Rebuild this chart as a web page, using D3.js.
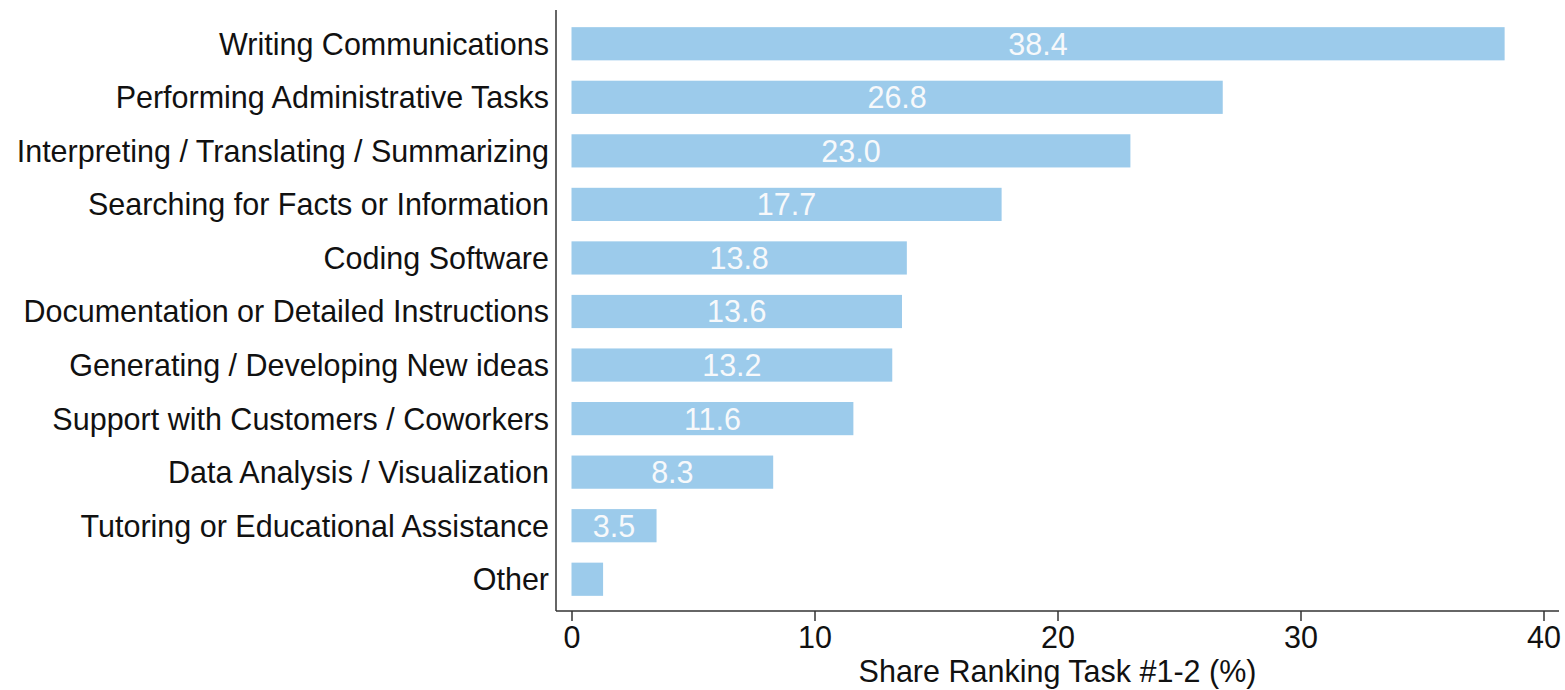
<!DOCTYPE html>
<html>
<head>
<meta charset="utf-8">
<script src="https://cdn.jsdelivr.net/npm/d3@7"></script>
<style>
  html, body { margin: 0; padding: 0; background: #ffffff; }
  svg { display: block; }
  text { font-family: "Liberation Sans", Arial, Helvetica, sans-serif; }
</style>
</head>
<body>
<div id="chart"></div>
<script>
const categories = [
  "Writing Communications",
  "Performing Administrative Tasks",
  "Interpreting / Translating / Summarizing",
  "Searching for Facts or Information",
  "Coding Software",
  "Documentation or Detailed Instructions",
  "Generating / Developing New ideas",
  "Support with Customers / Coworkers",
  "Data Analysis / Visualization",
  "Tutoring or Educational Assistance",
  "Other"
];
const values = [38.4, 26.8, 23.0, 17.7, 13.8, 13.6, 13.2, 11.6, 8.3, 3.5, 1.3];
const valueLabels = ["38.4", "26.8", "23.0", "17.7", "13.8", "13.6", "13.2", "11.6", "8.3", "3.5", ""];
const xTicks = [0, 10, 20, 30, 40];
const xTitle = "Share Ranking Task #1-2 (%)";

const W = 1565, H = 690;
const axisLeft = 556, axisBottom = 611, axisRight = 1559, axisTop = 10;
const fontSize = 30.5;

const svg = d3.select("#chart").append("svg").attr("width", W).attr("height", H);

const x = d3.scaleLinear().domain([0, 40]).range([571.5, 1543.5]);
const y = d3.scaleBand().domain(categories).range([12, 611]).paddingInner(0.38).paddingOuter(0.283);

// bars
svg.append("g").selectAll("rect").data(categories).join("rect")
  .attr("x", x(0))
  .attr("y", d => y(d))
  .attr("width", (d, i) => x(values[i]) - x(0))
  .attr("height", y.bandwidth())
  .attr("fill", "#9ccbeb");

// value labels
svg.append("g").selectAll("text").data(categories).join("text")
  .attr("x", (d, i) => (x(0) + x(values[i])) / 2)
  .attr("y", d => y(d) + y.bandwidth() / 2)
  .attr("dy", "0.36em")
  .attr("text-anchor", "middle")
  .attr("fill", "#f7f9fb")
  .style("font-size", fontSize + "px")
  .text((d, i) => valueLabels[i]);

// y axis line + labels
svg.append("line").attr("x1", axisLeft).attr("x2", axisLeft).attr("y1", axisTop).attr("y2", axisBottom)
  .attr("stroke", "#333").attr("stroke-width", 1.5);
svg.append("g").selectAll("text").data(categories).join("text")
  .attr("x", axisLeft - 7)
  .attr("y", d => y(d) + y.bandwidth() / 2)
  .attr("dy", "0.36em")
  .attr("text-anchor", "end")
  .attr("fill", "#111")
  .style("font-size", fontSize + "px")
  .text(d => d);

// x axis
svg.append("line").attr("x1", axisLeft).attr("x2", axisRight).attr("y1", axisBottom).attr("y2", axisBottom)
  .attr("stroke", "#333").attr("stroke-width", 1.5);
const xg = svg.append("g").attr("transform", `translate(0,${axisBottom})`)
  .call(d3.axisBottom(x).tickValues(xTicks).tickSize(10).tickPadding(5).tickFormat(d3.format("d")));
xg.select(".domain").remove();
xg.selectAll(".tick line").attr("stroke", "#333").attr("stroke-width", 1.5);
xg.selectAll(".tick text").attr("fill", "#111").style("font-size", fontSize + "px")
  .style("font-family", '"Liberation Sans", Arial, sans-serif');

svg.append("text")
  .attr("x", (axisLeft + axisRight) / 2)
  .attr("y", 682)
  .attr("text-anchor", "middle")
  .attr("fill", "#111")
  .style("font-size", fontSize + "px")
  .text(xTitle);
</script>
</body>
</html>
